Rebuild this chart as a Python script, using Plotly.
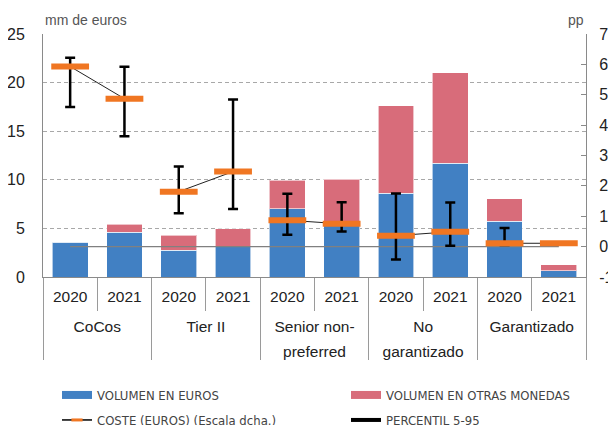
import plotly.graph_objects as go

# ---- data ----
groups = ["CoCos", "Tier II", "Senior non-<br>preferred", "No<br>garantizado", "Garantizado"]
years = ["2020", "2021"]
vol_eur = [3.6, 4.6, 2.75, 3.1, 7.0, 5.45, 8.6, 11.7, 5.75, 0.65]
vol_other = [0.0, 0.82, 1.55, 1.85, 2.95, 4.6, 9.0, 9.3, 2.3, 0.6]
cost = [5.93, 4.87, 1.81, 2.47, 0.87, 0.75, 0.36, 0.49, 0.11, 0.11]
p95 = [6.22, 5.92, 2.64, 4.84, 1.74, 1.46, 1.75, 1.45, 0.61, None]
p5 = [4.6, 3.63, 1.1, 1.24, 0.39, 0.5, -0.42, 0.03, 0.05, None]
right_ticks = [-1, 0, 1, 2, 3, 4, 5, 6, 7]
right_ticktext = ["-1", "0", "1", "2", "3", "4", "5", "6", "7"]

BLUE = "#4180C3"
RED = "#D86C7A"
ORANGE = "#F07622"
FONT = "Liberation Sans, Arial, sans-serif"
NARROW = "DejaVu Sans Condensed, Liberation Sans Narrow, Liberation Sans, sans-serif"


def shifted(label):
    # push group names a little further below the year row
    lines = label.split("<br>")
    shifts = [16, 21]
    return "<br>".join("<span style='baseline-shift:-%dpx'>%s</span>" % (shifts[min(k, 1)], t)
                       for k, t in enumerate(lines))


glabels = [shifted(g) for g in groups]
xg = [g for g in glabels for _ in years]
xy = [y for _ in glabels for y in years]
xcat = [xg, xy]

fig = go.Figure()

fig.add_trace(go.Bar(x=xcat, y=vol_eur, marker=dict(color=BLUE, line=dict(color="rgba(255,255,255,0.6)", width=1)),
                     showlegend=False, name="VOLUMEN EN EUROS"))
fig.add_trace(go.Bar(x=xcat, y=vol_other, marker=dict(color=RED, line=dict(color="rgba(255,255,255,0.6)", width=1)),
                     showlegend=False, name="VOLUMEN EN OTRAS MONEDAS"))

# zero reference line on right axis
fig.add_trace(go.Scatter(x=[[xg[0], xg[-1]], [xy[0], xy[-1]]], y=[0, 0], yaxis="y2", mode="lines",
                         line=dict(color="#808080", width=1.2), showlegend=False, hoverinfo="skip"))

# connecting lines within each group
for i, g in enumerate(glabels):
    fig.add_trace(go.Scatter(x=[[g, g], years], y=cost[2 * i:2 * i + 2], yaxis="y2", mode="lines",
                             line=dict(color="#222222", width=1), showlegend=False, hoverinfo="skip"))

# percentile error bars
idx = [i for i in range(len(cost)) if p95[i] is not None]
fig.add_trace(go.Scatter(
    x=[[xg[i] for i in idx], [xy[i] for i in idx]], y=[cost[i] for i in idx], yaxis="y2", mode="markers",
    marker=dict(size=1, color="rgba(0,0,0,0)"),
    error_y=dict(type="data", symmetric=False,
                 array=[p95[i] - cost[i] for i in idx],
                 arrayminus=[cost[i] - p5[i] for i in idx],
                 color="#000000", thickness=2.5, width=5),
    showlegend=False, name="PERCENTIL 5-95"))

# cost markers
fig.add_trace(go.Scatter(x=xcat, y=cost, yaxis="y2", mode="markers",
                         marker=dict(symbol="line-ew", size=27, line=dict(color=ORANGE, width=6)),
                         showlegend=False, name="COSTE (EUROS) (Escala dcha.)"))

# legend proxies
fig.add_trace(go.Scatter(x=[None], y=[None], mode="lines", line=dict(color=BLUE, width=8),
                         name="VOLUMEN EN EUROS", legend="legend"))
fig.add_trace(go.Scatter(x=[None], y=[None], mode="lines", line=dict(color=RED, width=8),
                         name="VOLUMEN EN OTRAS MONEDAS", legend="legend2"))
fig.add_trace(go.Scatter(x=[None], y=[None], mode="lines+markers", line=dict(color="#000000", width=1.5),
                         marker=dict(symbol="line-ew", size=8, line=dict(color=ORANGE, width=3)),
                         name="COSTE (EUROS) (Escala dcha.)", legend="legend3"))
fig.add_trace(go.Scatter(x=[None], y=[None], mode="lines", line=dict(color="#000000", width=4),
                         name="PERCENTIL 5-95", legend="legend4"))

leg_common = dict(orientation="h", bgcolor="rgba(0,0,0,0)", yanchor="middle", xanchor="left",
                  xref="container", yref="container",
                  font=dict(family=NARROW, size=13, color="#444444"))

fig.update_layout(
    width=616, height=425,
    margin=dict(l=35, r=38, t=26, b=156, autoexpand=False),
    paper_bgcolor="white", plot_bgcolor="white",
    barmode="stack", bargap=0.34,
    font=dict(family=FONT, color="#222222"),
    xaxis=dict(type="multicategory", range=[-0.5, 9.5], showline=True, linecolor="#8a8a8a", linewidth=1,
               ticks="outside", ticklen=33, tickcolor="#9a9a9a", ticklabelstandoff=5,
               dividercolor="#9a9a9a", dividerwidth=1, automargin=False,
               tickfont=dict(family=FONT, size=15.5, color="#222222"), showgrid=False),
    yaxis=dict(range=[0, 25], dtick=5, showgrid=True, gridcolor="#a8a8a8", griddash="4px,3px",
               zeroline=False, showline=True, linecolor="#8a8a8a", linewidth=1, automargin=False,
               ticks="", ticklabelstandoff=14, tickfont=dict(family=FONT, size=16, color="#222222")),
    yaxis2=dict(range=[-1, 7], tickvals=right_ticks, ticktext=right_ticktext, overlaying="y", side="right",
                showgrid=False, zeroline=False, automargin=False,
                showline=True, linecolor="#8a8a8a", linewidth=1, ticks="inside", ticklen=5,
                tickcolor="#8a8a8a", ticklabelstandoff=9,
                tickfont=dict(family=FONT, size=16, color="#222222")),
    legend=dict(x=49 / 616, y=1 - 387 / 425, **leg_common),
    legend2=dict(x=338 / 616, y=1 - 387 / 425, **leg_common),
    legend3=dict(x=49 / 616, y=1 - 412 / 425, **leg_common),
    legend4=dict(x=338 / 616, y=1 - 412 / 425, **leg_common),
    annotations=[
        dict(text="mm de euros", xref="paper", yref="paper", x=0, y=1, xanchor="left", yanchor="bottom",
             yshift=4, showarrow=False, font=dict(family=FONT, size=14, color="#555555")),
        dict(text="pp", xref="paper", yref="paper", x=1, y=1, xanchor="right", yanchor="bottom",
             yshift=4, showarrow=False, font=dict(family=FONT, size=14, color="#555555")),
    ],
)

fig.write_html("out.html")
